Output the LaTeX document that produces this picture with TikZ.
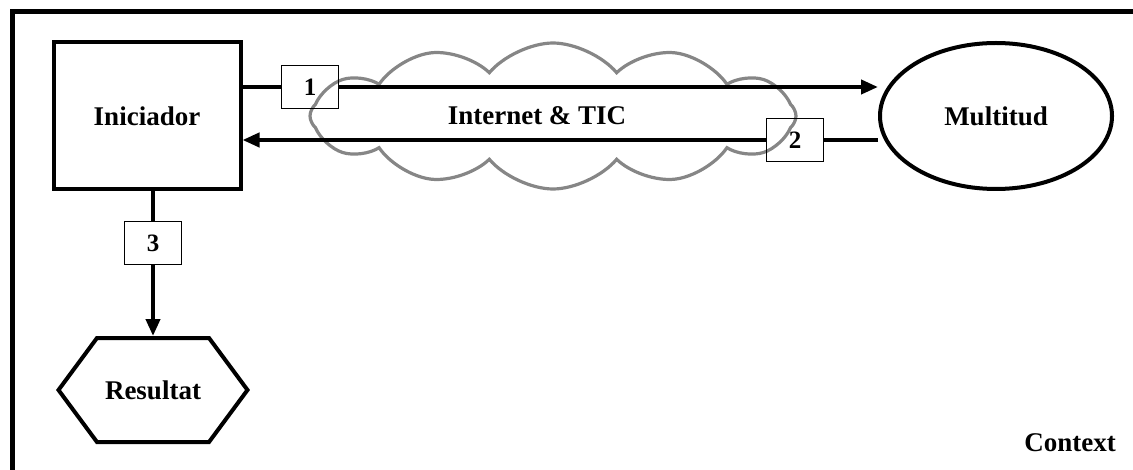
\documentclass[tikz,border=0pt]{standalone}
\usepackage{fontspec}
\setmainfont{Liberation Serif}
\usepackage{tikz}
\usetikzlibrary{shapes.geometric,shapes.symbols,arrows.meta}

\begin{document}
\begin{tikzpicture}[
    x=0.5pt, y=-0.5pt,
    label/.style={
        font=\fontsize{13.5}{16}\selectfont\bfseries
    },
    box/.style={
        draw,
        rectangle,
        line width=2pt,
        minimum width=93.5pt,
        minimum height=73.5pt,
        align=center,
        label
    },
    numbox/.style={
        draw,
        rectangle,
        line width=0.8pt,
        minimum width=28.5pt,
        minimum height=21.5pt,
        inner sep=0pt,
        font=\fontsize{12.5}{14}\selectfont\bfseries
    },
    flow/.style={
        line width=2pt,
        -{Triangle[length=8.5pt,width=7pt]}
    }
]

\useasboundingbox (0,0) rectangle (1133,470);

% context frame
\draw[line width=2.5pt] (1133,12) -- (12,12) -- (12,470);
\node[label] (ctx) at (1070,443) {Context};

% network
\node[cloud, cloud puffs=12, cloud puff arc=100, aspect=3.3, draw=gray!95, line width=1.6pt,
      minimum width=243pt, minimum height=73pt, label] (net) at (553,116) {Internet \& TIC\hspace{16pt}\null};

\node[box] (ini) at (147,116) {Iniciador};
\node[ellipse, draw, line width=2pt, minimum width=116pt, minimum height=73pt, label] (mul) at (996,116) {Multitud};
\node[signal, signal to=west and east, signal pointer angle=107, draw, line width=2pt,
      minimum width=94.5pt, minimum height=52pt, label] (res) at (153,390) {Resultat};

\node[numbox] (n1) at (310,87) {1};
\node[numbox] (n2) at (795,140) {2};
\node[numbox] (n3) at (153,243) {3};

\draw[line width=2pt] (ini.east |- n1) -- (n1.west);
\draw[flow] (n1.east) -- (n1 -| mul.west);
\draw[line width=2pt] (mul.west |- n2) -- (n2.east);
\draw[flow] (n2.west) -- (n2 -| ini.east);
\draw[line width=2pt] (ini.south -| n3) -- (n3.north);
\draw[flow] (n3.south) -- (n3 |- res.north);

\end{tikzpicture}
\end{document}
